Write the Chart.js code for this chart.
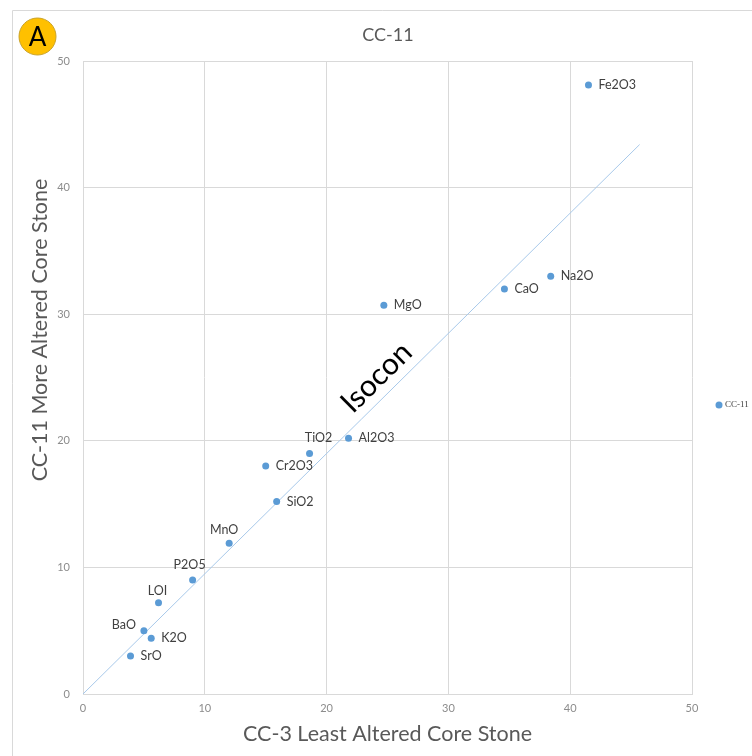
<!DOCTYPE html>
<html>
<head>
<meta charset="utf-8">
<script src="https://cdn.jsdelivr.net/npm/chart.js@4/dist/chart.umd.min.js"></script>
<style>
  html, body { margin: 0; padding: 0; background: #ffffff; }
  #wrap { position: relative; width: 752px; height: 756px; }
</style>
</head>
<body>
<div id="wrap"><canvas id="c" width="752" height="756"></canvas></div>
<script>
// Oxide composition: least altered core stone (CC-3) vs more altered core stone (CC-11)
const oxides       = ['Fe2O3', 'Na2O', 'CaO', 'MgO', 'Al2O3', 'TiO2', 'Cr2O3', 'SiO2', 'MnO', 'P2O5', 'LOI', 'BaO', 'K2O', 'SrO'];
const leastAltered = [41.5, 38.4, 34.6, 24.7, 21.8, 18.6, 15.0, 15.9, 12.0, 9.0, 6.2, 5.0, 5.6, 3.9];
const moreAltered  = [48.1, 33.0, 32.0, 30.7, 20.2, 19.0, 18.0, 15.2, 11.9, 9.0, 7.2, 5.0, 4.4, 3.0];

// Isocon reference line end points
const isoconX = [0, 45.7];
const isoconY = [0, 43.4];

// Axis ticks
const axisTicks = [0, 10, 20, 30, 40, 50];

const seriesName = 'CC-11';
const chartTitle = 'CC-11';
const xTitle = 'CC-3 Least Altered Core Stone';
const yTitle = 'CC-11 More Altered Core Stone';
const isoconText = 'Isocon';
const panelLetter = 'A';

// Where each oxide label sits relative to its marker
const labelPlacement = {
  TiO2: { dx: 9, dy: -15, align: 'center' },
  MnO:  { dx: -5, dy: -13, align: 'center' },
  P2O5: { dx: -3, dy: -15, align: 'center' },
  LOI:  { dx: -1, dy: -12, align: 'center' },
  BaO:  { dx: -8, dy: -6, align: 'right' }
};
const defaultPlacement = { dx: 10, dy: 0, align: 'left' };

const FONT = 'Lato, "Open Sans", sans-serif';
const MARKER = '#5B9BD5';

const points = oxides.map((name, i) => ({ x: leastAltered[i], y: moreAltered[i] }));
const isocon = isoconX.map((x, i) => ({ x, y: isoconY[i] }));

const decorations = {
  id: 'decorations',
  beforeDraw(chart) {
    const ctx = chart.ctx;
    ctx.save();
    // chart frame
    ctx.strokeStyle = '#d9d9d9';
    ctx.lineWidth = 1;
    ctx.beginPath();
    ctx.moveTo(12.5, 756);
    ctx.lineTo(12.5, 10.5);
    ctx.lineTo(752, 10.5);
    ctx.stroke();
    ctx.restore();
  },
  afterDatasetsDraw(chart) {
    const ctx = chart.ctx;
    const xs = chart.scales.x, ys = chart.scales.y;
    const area = chart.chartArea;
    ctx.save();

    // oxide labels
    ctx.font = '12.5px ' + FONT;
    ctx.fillStyle = '#404040';
    ctx.textBaseline = 'middle';
    oxides.forEach((name, i) => {
      const p = labelPlacement[name] || defaultPlacement;
      const px = xs.getPixelForValue(leastAltered[i]);
      const py = ys.getPixelForValue(moreAltered[i]);
      ctx.textAlign = p.align;
      ctx.fillText(name, px + p.dx, py + p.dy);
    });

    // isocon label, rotated along the line
    const x0 = xs.getPixelForValue(isoconX[0]), y0 = ys.getPixelForValue(isoconY[0]);
    const x1 = xs.getPixelForValue(isoconX[1]), y1 = ys.getPixelForValue(isoconY[1]);
    const ang = Math.atan2(y1 - y0, x1 - x0);
    ctx.save();
    ctx.translate(xs.getPixelForValue(24.1), ys.getPixelForValue(25.0));
    ctx.rotate(ang);
    ctx.font = '30px ' + FONT;
    ctx.fillStyle = '#000000';
    ctx.textAlign = 'center';
    ctx.textBaseline = 'middle';
    ctx.fillText(isoconText, 0, 0);
    ctx.restore();

    // chart title
    ctx.font = '18px ' + FONT;
    ctx.fillStyle = '#595959';
    ctx.textAlign = 'center';
    ctx.textBaseline = 'middle';
    ctx.fillText(chartTitle, 388, 35);

    // axis titles
    ctx.font = '21.5px ' + FONT;
    ctx.fillText(xTitle, (area.left + area.right) / 2, 734);
    ctx.save();
    ctx.translate(40, 330);
    ctx.rotate(-Math.PI / 2);
    ctx.fillText(yTitle, 0, 0);
    ctx.restore();

    // legend
    ctx.fillStyle = MARKER;
    ctx.beginPath();
    ctx.arc(719, 405, 3.5, 0, Math.PI * 2);
    ctx.fill();
    ctx.font = '9px "Liberation Serif", serif';
    ctx.fillStyle = '#404040';
    ctx.textAlign = 'left';
    ctx.fillText(seriesName, 725, 405);

    // panel badge
    ctx.beginPath();
    ctx.arc(37.5, 36.5, 18.5, 0, Math.PI * 2);
    ctx.fillStyle = '#FFC000';
    ctx.fill();
    ctx.strokeStyle = '#C9A227';
    ctx.lineWidth = 1;
    ctx.stroke();
    ctx.fillStyle = '#000000';
    ctx.font = '26px ' + FONT;
    ctx.textAlign = 'center';
    ctx.fillText(panelLetter, 37.5, 37.5);

    ctx.restore();
  }
};

new Chart(document.getElementById('c'), {
  type: 'scatter',
  data: {
    datasets: [
      {
        label: seriesName,
        data: points,
        backgroundColor: MARKER,
        borderColor: MARKER,
        pointRadius: 3.5,
        pointBorderWidth: 0
      },
      {
        label: 'Isocon',
        data: isocon,
        showLine: true,
        borderColor: '#A8C9EA',
        borderWidth: 1,
        pointRadius: 0,
        fill: false
      }
    ]
  },
  options: {
    responsive: false,
    animation: false,
    devicePixelRatio: 1,
    layout: { padding: { left: 0, right: 60, top: 61, bottom: 0 } },
    plugins: {
      legend: { display: false },
      title: { display: false },
      tooltip: { enabled: false }
    },
    scales: {
      x: {
        type: 'linear',
        min: 0, max: 50,
        afterBuildTicks(scale) { scale.ticks = axisTicks.map(v => ({ value: v })); },
        afterFit(scale) { scale.height = 62; },
        grid: { color: '#d9d9d9', lineWidth: 1, drawTicks: false },
        border: { color: '#d9d9d9' },
        ticks: { color: '#8c8c8c', font: { family: FONT, size: 11 }, padding: 8 }
      },
      y: {
        type: 'linear',
        min: 0, max: 50,
        afterBuildTicks(scale) { scale.ticks = axisTicks.map(v => ({ value: v })); },
        afterFit(scale) { scale.width = 83; },
        grid: { color: '#d9d9d9', lineWidth: 1, drawTicks: false },
        border: { color: '#d9d9d9' },
        ticks: { color: '#8c8c8c', font: { family: FONT, size: 11 }, padding: 13 }
      }
    }
  },
  plugins: [decorations]
});
</script>
</body>
</html>
